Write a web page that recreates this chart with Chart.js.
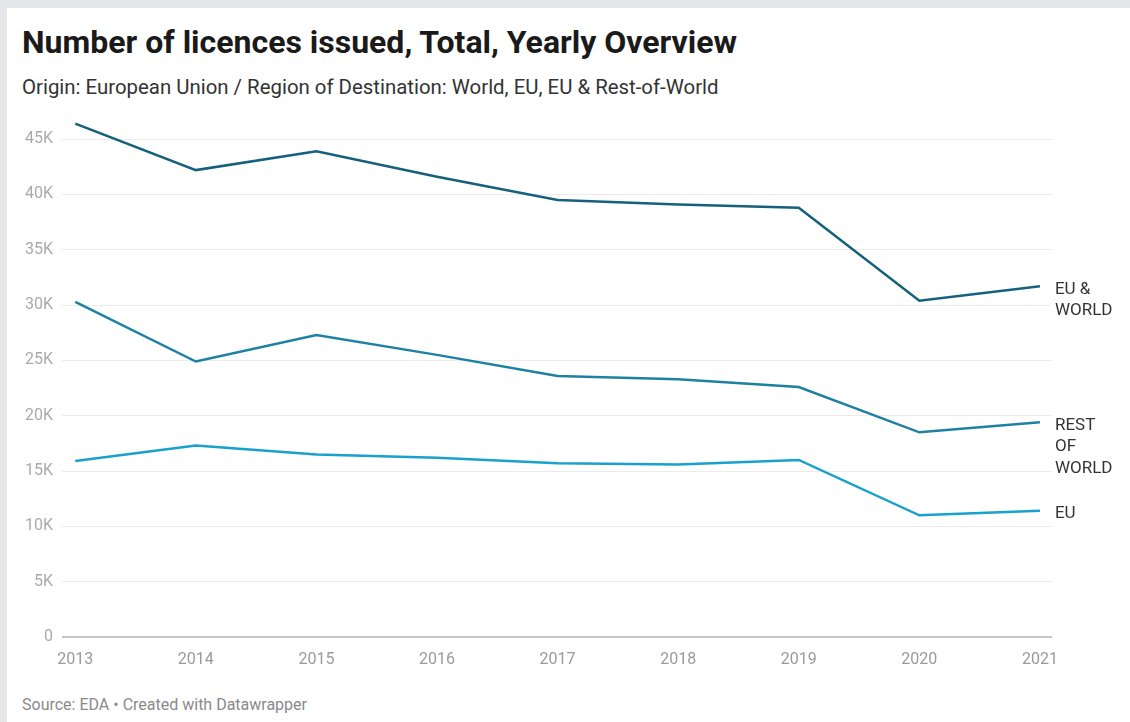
<!DOCTYPE html>
<html>
<head>
<meta charset="utf-8">
<script src="https://cdn.jsdelivr.net/npm/chart.js@4"></script>
<style>
  html, body { margin: 0; padding: 0; }
  body { width: 1130px; height: 722px; background: #e4e6e9; position: relative; overflow: hidden; font-family: Roboto, "Noto Sans", sans-serif; }
  #panel { position: absolute; left: 7px; top: 8px; right: 0; bottom: 0; background: #ffffff; }
  #title { position: absolute; left: 22px; top: 23px; font-size: 32px; font-weight: 700; color: #1a1a1a; white-space: nowrap; }
  #subtitle { position: absolute; left: 22px; top: 75px; font-size: 20.4px; color: #333333; white-space: nowrap; }
  #source { position: absolute; left: 22px; top: 695px; font-size: 16px; color: #8a8a8a; white-space: nowrap; }
  #wrap { position: absolute; left: 0; top: 0; width: 1130px; height: 722px; }
</style>
</head>
<body>
<div id="panel"></div>
<div id="title">Number of licences issued, Total, Yearly Overview</div>
<div id="subtitle">Origin: European Union / Region of Destination: World, EU, EU &amp; Rest-of-World</div>
<div id="source">Source: EDA • Created with Datawrapper</div>
<div id="wrap"><canvas id="c" width="1130" height="722"></canvas></div>
<script>
// ---- data ----
const years = [2013, 2014, 2015, 2016, 2017, 2018, 2019, 2020, 2021];
const euWorld = [46400, 42200, 43900, 41600, 39500, 39100, 38800, 30400, 31700];
const restOfWorld = [30300, 24900, 27300, 25500, 23600, 23300, 22600, 18500, 19400];
const eu = [15900, 17300, 16500, 16200, 15700, 15600, 16000, 11000, 11400];
const seriesNames = ["EU & World", "Rest of World", "EU"];
const seriesLabels = [["EU &", "WORLD"], ["REST", "OF", "WORLD"], ["EU"]];
const yTicks = [0, 5000, 10000, 15000, 20000, 25000, 30000, 35000, 40000, 45000];
const yTickLabels = ["0", "5K", "10K", "15K", "20K", "25K", "30K", "35K", "40K", "45K"];

const colors = ["#15607a", "#1d81a2", "#18a1cd"];
const series = [euWorld, restOfWorld, eu];

const endLabels = {
  id: 'endLabels',
  afterDatasetsDraw(chart) {
    const ctx = chart.ctx;
    ctx.save();
    ctx.font = '17px Roboto, "Noto Sans", sans-serif';
    ctx.fillStyle = '#333333';
    ctx.textAlign = 'left';
    ctx.textBaseline = 'middle';
    chart.data.datasets.forEach((ds, i) => {
      const meta = chart.getDatasetMeta(i);
      const pt = meta.data[meta.data.length - 1];
      seriesLabels[i].forEach((line, j) => {
        ctx.fillText(line, pt.x + 15, pt.y + 3 + j * 21.5);
      });
    });
    ctx.restore();
  }
};

new Chart(document.getElementById('c'), {
  type: 'line',
  data: {
    datasets: series.map((s, i) => ({
      label: seriesNames[i],
      data: years.map((y, k) => ({ x: y, y: s[k] })),
      borderColor: colors[i],
      borderWidth: 2.5,
      pointRadius: 0,
      tension: 0,
      fill: false
    }))
  },
  options: {
    responsive: false,
    animation: false,
    events: [],
    layout: { padding: { left: 0, right: 78, top: 117, bottom: 50 } },
    plugins: { legend: { display: false }, tooltip: { enabled: false }, title: { display: false } },
    scales: {
      x: {
        type: 'linear',
        min: 2012.89,
        max: 2021.1,
        afterFit(scale) { scale.height = 35; },
        afterBuildTicks(scale) { scale.ticks = years.map(v => ({ value: v })); },
        grid: { display: false, drawTicks: false },
        border: { display: false },
        ticks: {
          padding: 13,
          color: '#9a9a9a',
          font: { family: 'Roboto, "Noto Sans", sans-serif', size: 16 },
          callback: (v) => String(v),
          maxRotation: 0,
          autoSkip: false
        }
      },
      y: {
        min: 0,
        max: 47000,
        afterFit(scale) { scale.width = 62; },
        afterBuildTicks(scale) { scale.ticks = yTicks.map(v => ({ value: v })); },
        grid: {
          drawTicks: false,
          color: (c) => c.tick && c.tick.value === 0 ? '#c4c4c4' : '#ececec',
          lineWidth: (c) => c.tick && c.tick.value === 0 ? 2 : 1
        },
        border: { display: false },
        ticks: {
          padding: 9,
          color: '#aaaaaa',
          font: { family: 'Roboto, "Noto Sans", sans-serif', size: 16 },
          callback: (v) => yTickLabels[yTicks.indexOf(v)]
        }
      }
    }
  },
  plugins: [endLabels]
});
</script>
</body>
</html>
